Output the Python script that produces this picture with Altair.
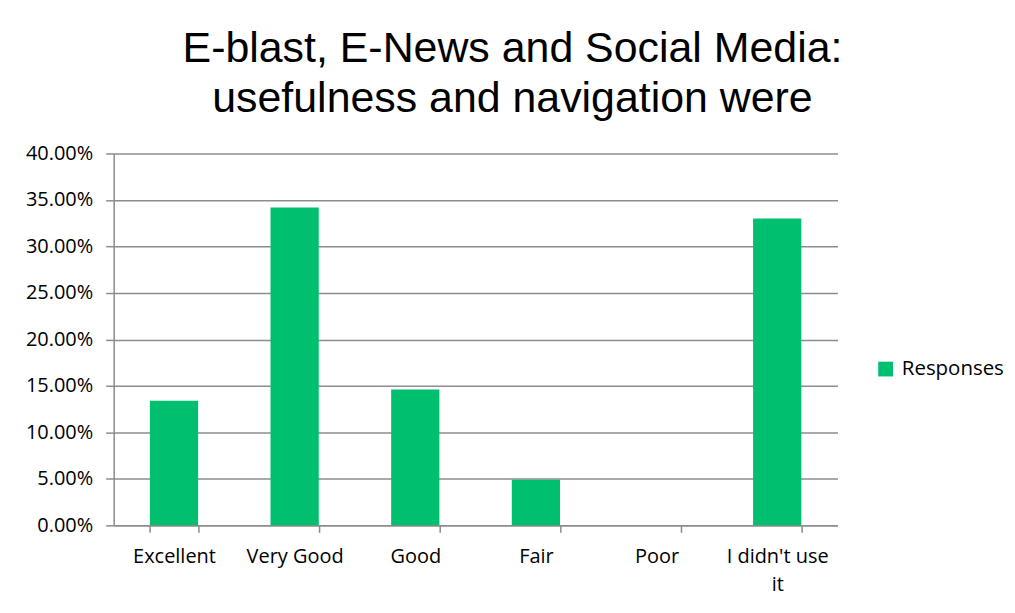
import altair as alt
import pandas as pd

categories = ["Excellent", "Very Good", "Good", "Fair", "Poor", "I didn't use it"]
responses = [0.134, 0.342, 0.146, 0.049, 0.0, 0.330]
series = ["Responses"] * len(categories)
y_ticks = [0.0, 0.05, 0.10, 0.15, 0.20, 0.25, 0.30, 0.35, 0.40]

df = pd.DataFrame({"Category": categories, "Value": responses, "Series": series})

label_expr = "datum.label === \"I didn't use it\" ? [\"I didn't use\", \"it\"] : datum.label"

chart = (
    alt.Chart(df)
    .mark_bar(color="#00C070")
    .encode(
        x=alt.X(
            "Category:N",
            sort=categories,
            scale=alt.Scale(paddingInner=0.6, paddingOuter=0.3),
            axis=alt.Axis(
                title=None,
                labelAngle=0,
                labelFont="Open Sans",
                labelFontSize=20,
                labelColor="#000000",
                labelPadding=14,
                labelLineHeight=28,
                labelExpr=label_expr,
                tickBand="extent",
                tickSize=7,
                tickColor="#8c8c8c",
                tickWidth=1.5,
                domainColor="#8c8c8c",
                domainWidth=1.5,
                grid=False,
            ),
        ),
        y=alt.Y(
            "Value:Q",
            scale=alt.Scale(domain=[0, 0.4], nice=False),
            axis=alt.Axis(
                title=None,
                values=y_ticks,
                format=".2%",
                labelFont="Open Sans",
                labelFontSize=20,
                labelColor="#000000",
                labelPadding=13,
                tickSize=8,
                tickColor="#8c8c8c",
                tickWidth=1.5,
                domainColor="#8c8c8c",
                domainWidth=1.5,
                gridColor="#8c8c8c",
                gridWidth=1.5,
            ),
        ),
        fill=alt.Fill(
            "Series:N",
            scale=alt.Scale(domain=["Responses"], range=["#00C070"]),
            legend=alt.Legend(
                title=None,
                orient="none",
                legendX=764,
                legendY=206,
                symbolType="square",
                symbolSize=220,
                symbolStrokeWidth=0,
                labelFont="Open Sans",
                labelFontSize=20.5,
                labelColor="#000000",
                labelOffset=6,
            ),
        ),
    )
    .properties(
        width=726,
        height=373,
        autosize=alt.AutoSizeParams(type="none"),
        padding={"left": 106, "top": 145, "right": 170, "bottom": 80},
        title=alt.TitleParams(
            text=["E-blast, E-News and Social Media:", "usefulness and navigation were"],
            font="Liberation Sans",
            fontSize=43,
            fontWeight="normal",
            color="#000000",
            anchor="middle",
            dx=37,
            offset=23,
            lineHeight=50,
        ),
    )
    .configure_view(stroke=None)
)

chart.save("out.html", embed_options={"renderer": "svg", "actions": False})
